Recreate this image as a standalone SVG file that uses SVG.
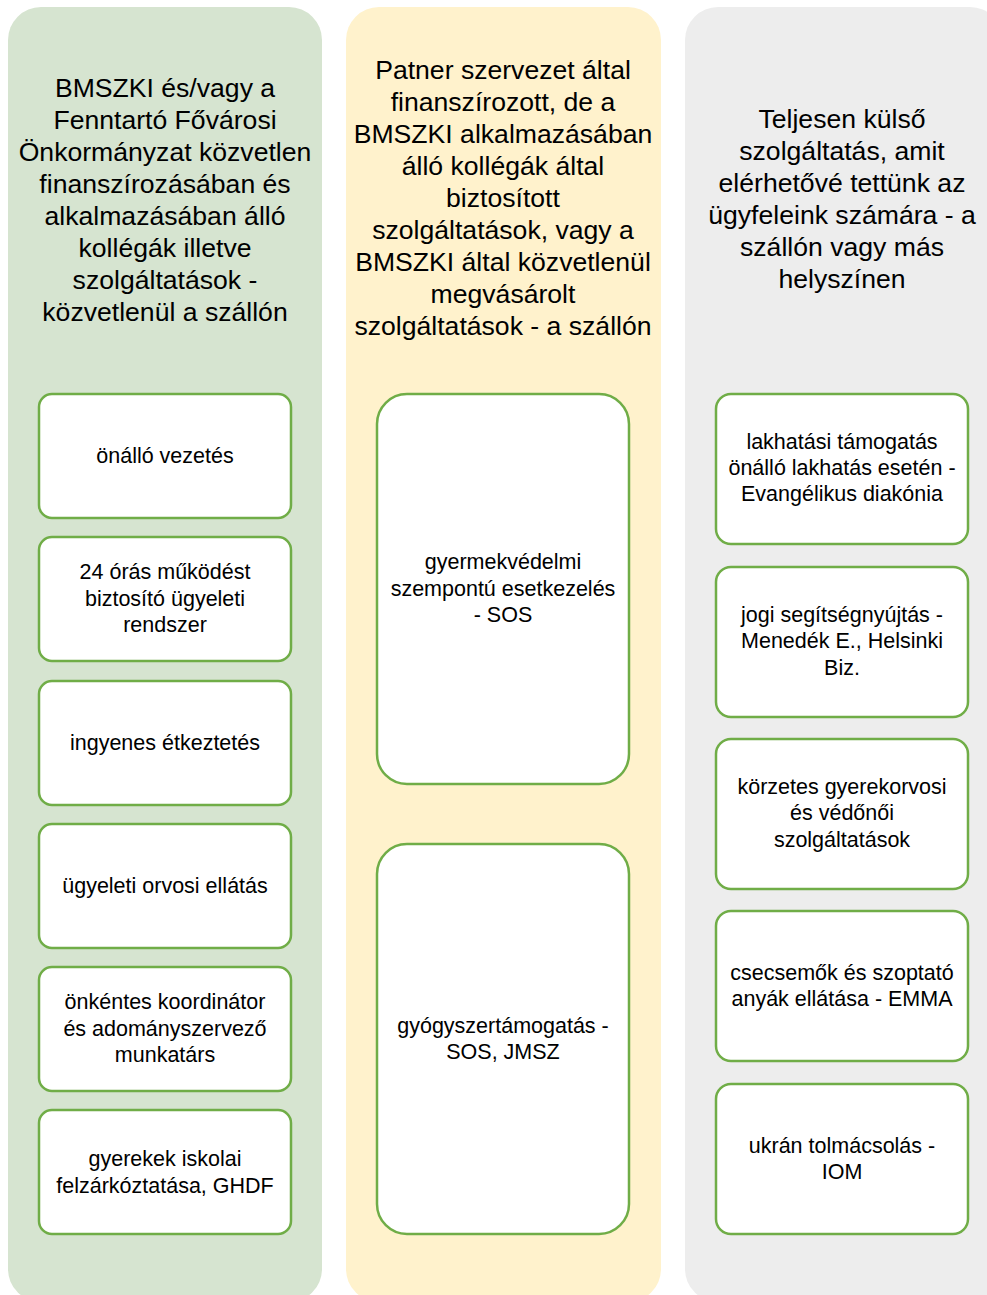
<svg xmlns="http://www.w3.org/2000/svg" width="987" height="1295" viewBox="0 0 987 1295">
<style>
.col-g{fill:#D6E4D0}
.col-y{fill:#FFF2CC}
.col-s{fill:#EDEDED}
.box{fill:#FFFFFF;stroke:#70AD47;stroke-width:2.5}
.hd{font-family:"Liberation Sans",Arial,sans-serif;font-size:26.6px;fill:#000;text-anchor:middle}
.bt{font-family:"Liberation Sans",Arial,sans-serif;font-size:21.5px;fill:#000;text-anchor:middle}
</style>
<rect width="987" height="1295" fill="#FFFFFF"/>
<g id="columns">
<rect class="col-g" x="8" y="7" width="314" height="1295" rx="33"/>
<rect class="col-y" x="346" y="7" width="315" height="1295" rx="33"/>
<rect class="col-s" x="685" y="7" width="318" height="1295" rx="33"/>
</g>
<g id="header-left">
<text class="hd" x="165"><tspan x="165" y="97">BMSZKI és/vagy a</tspan><tspan x="165" y="129">Fenntartó Fővárosi</tspan><tspan x="165" y="161">Önkormányzat közvetlen</tspan><tspan x="165" y="193">finanszírozásában és</tspan><tspan x="165" y="225">alkalmazásában álló</tspan><tspan x="165" y="257">kollégák illetve</tspan><tspan x="165" y="289">szolgáltatások -</tspan><tspan x="165" y="321">közvetlenül a szállón</tspan></text>
</g>
<g id="header-middle">
<text class="hd" x="503"><tspan x="503" y="79">Patner szervezet által</tspan><tspan x="503" y="111">finanszírozott, de a</tspan><tspan x="503" y="143">BMSZKI alkalmazásában</tspan><tspan x="503" y="175">álló kollégák által</tspan><tspan x="503" y="207">biztosított</tspan><tspan x="503" y="239">szolgáltatások, vagy a</tspan><tspan x="503" y="271">BMSZKI által közvetlenül</tspan><tspan x="503" y="303">megvásárolt</tspan><tspan x="503" y="335">szolgáltatások - a szállón</tspan></text>
</g>
<g id="header-right">
<text class="hd" x="842"><tspan x="842" y="128">Teljesen külső</tspan><tspan x="842" y="160">szolgáltatás, amit</tspan><tspan x="842" y="192">elérhetővé tettünk az</tspan><tspan x="842" y="224">ügyfeleink számára - a</tspan><tspan x="842" y="256">szállón vagy más</tspan><tspan x="842" y="288">helyszínen</tspan></text>
</g>
<g id="connectors"></g>
<g id="node-onallo-vezetes">
<rect class="box" x="39" y="394" width="252" height="124" rx="13"/>
<text class="bt"><tspan x="165" y="463">önálló vezetés</tspan></text>
</g>
<g id="node-24-oras">
<rect class="box" x="39" y="537" width="252" height="124" rx="13"/>
<text class="bt"><tspan x="165" y="579">24 órás működést</tspan><tspan x="165" y="606">biztosító ügyeleti</tspan><tspan x="165" y="632">rendszer</tspan></text>
</g>
<g id="node-etkeztetes">
<rect class="box" x="39" y="681" width="252" height="124" rx="13"/>
<text class="bt"><tspan x="165" y="750">ingyenes étkeztetés</tspan></text>
</g>
<g id="node-orvosi">
<rect class="box" x="39" y="824" width="252" height="124" rx="13"/>
<text class="bt"><tspan x="165" y="893">ügyeleti orvosi ellátás</tspan></text>
</g>
<g id="node-onkentes">
<rect class="box" x="39" y="967" width="252" height="124" rx="13"/>
<text class="bt"><tspan x="165" y="1009">önkéntes koordinátor</tspan><tspan x="165" y="1036">és adományszervező</tspan><tspan x="165" y="1062">munkatárs</tspan></text>
</g>
<g id="node-gyerekek">
<rect class="box" x="39" y="1110" width="252" height="124" rx="13"/>
<text class="bt"><tspan x="165" y="1166">gyerekek iskolai</tspan><tspan x="165" y="1193">felzárkóztatása, GHDF</tspan></text>
</g>
<g id="node-gyermekvedelmi">
<rect class="box" x="377" y="394" width="252" height="390" rx="30"/>
<text class="bt"><tspan x="503" y="569">gyermekvédelmi</tspan><tspan x="503" y="596">szempontú esetkezelés</tspan><tspan x="503" y="622">- SOS</tspan></text>
</g>
<g id="node-gyogyszer">
<rect class="box" x="377" y="844" width="252" height="390" rx="30"/>
<text class="bt"><tspan x="503" y="1033">gyógyszertámogatás -</tspan><tspan x="503" y="1059">SOS, JMSZ</tspan></text>
</g>
<g id="node-lakhatasi">
<rect class="box" x="716" y="394" width="252" height="150" rx="15"/>
<text class="bt"><tspan x="842" y="449">lakhatási támogatás</tspan><tspan x="842" y="475">önálló lakhatás esetén -</tspan><tspan x="842" y="501">Evangélikus diakónia</tspan></text>
</g>
<g id="node-jogi">
<rect class="box" x="716" y="567" width="252" height="150" rx="15"/>
<text class="bt"><tspan x="842" y="622">jogi segítségnyújtás -</tspan><tspan x="842" y="648">Menedék E., Helsinki</tspan><tspan x="842" y="675">Biz.</tspan></text>
</g>
<g id="node-korzetes">
<rect class="box" x="716" y="739" width="252" height="150" rx="15"/>
<text class="bt"><tspan x="842" y="794">körzetes gyerekorvosi</tspan><tspan x="842" y="820">és védőnői</tspan><tspan x="842" y="847">szolgáltatások</tspan></text>
</g>
<g id="node-csecsemok">
<rect class="box" x="716" y="911" width="252" height="150" rx="15"/>
<text class="bt"><tspan x="842" y="980">csecsemők és szoptató</tspan><tspan x="842" y="1006">anyák ellátása - EMMA</tspan></text>
</g>
<g id="node-ukran">
<rect class="box" x="716" y="1084" width="252" height="150" rx="15"/>
<text class="bt"><tspan x="842" y="1153">ukrán tolmácsolás -</tspan><tspan x="842" y="1179">IOM</tspan></text>
</g>
</svg>
